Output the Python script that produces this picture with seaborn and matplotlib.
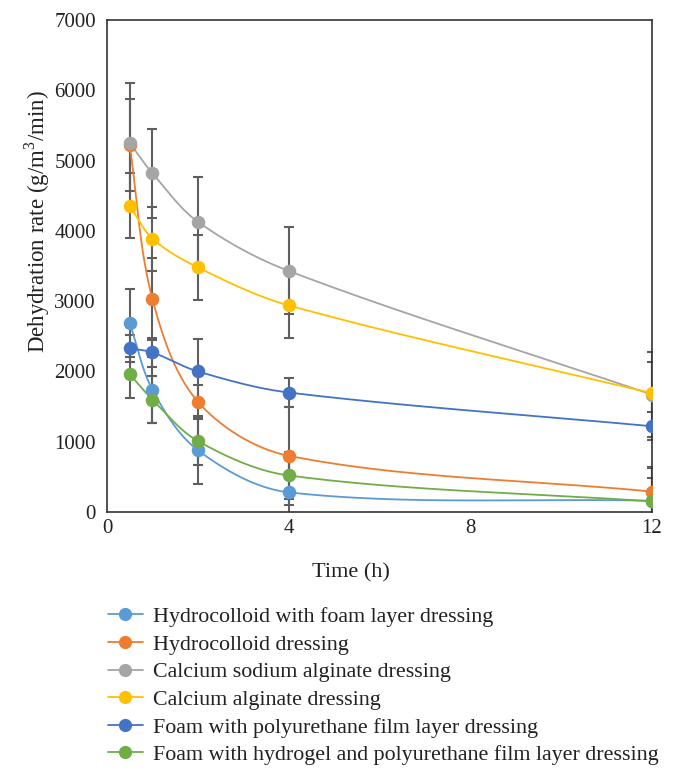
import numpy as np
import pandas as pd
import matplotlib
matplotlib.use("Agg")
import matplotlib.pyplot as plt
import seaborn as sns
from matplotlib.lines import Line2D

# ---------------- data ----------------
time_h = [0.5, 1, 2, 4, 12]
series_names = [
    "Hydrocolloid with foam layer dressing",
    "Hydrocolloid dressing",
    "Calcium sodium alginate dressing",
    "Calcium alginate dressing",
    "Foam with polyurethane film layer dressing",
    "Foam with hydrogel and polyurethane film layer dressing",
]
hydrocolloid_foam = [2690, 1740, 880, 280, 160]
hydrocolloid = [5220, 3030, 1570, 800, 290]
ca_na_alginate = [5250, 4820, 4130, 3430, 1670]
ca_alginate = [4360, 3890, 3480, 2940, 1690]
foam_pu = [2330, 2270, 2000, 1700, 1220]
foam_hydrogel_pu = [1960, 1600, 1010, 520, 150]

err_hydrocolloid_foam = [480, 470, 480, 480, 480]
err_hydrocolloid = [650, 580, 240, 700, 330]
err_ca_na_alginate = [850, 630, 630, 620, 610]
err_ca_alginate = [460, 455, 460, 465, 450]
err_foam_pu = [190, 200, 460, 200, 200]
err_foam_hydrogel_pu = [340, 340, 340, 340, 340]

colors = ["#5B9BD5", "#ED7D31", "#A5A5A5", "#FFC000", "#4472C4", "#70AD47"]
x_ticks = [0, 4, 8, 12]
y_ticks = [0, 1000, 2000, 3000, 4000, 5000, 6000, 7000]

values = [hydrocolloid_foam, hydrocolloid, ca_na_alginate, ca_alginate, foam_pu, foam_hydrogel_pu]
errors = [err_hydrocolloid_foam, err_hydrocolloid, err_ca_na_alginate, err_ca_alginate,
          err_foam_pu, err_foam_hydrogel_pu]

df = pd.DataFrame({
    "time": np.tile(time_h, len(series_names)),
    "rate": np.concatenate(values),
    "err": np.concatenate(errors),
    "series": np.repeat(series_names, len(time_h)),
})

# ---------------- style ----------------
sns.set_theme(style="white")
plt.rcParams["font.family"] = ["Liberation Serif", "DejaVu Serif"]
plt.rcParams["mathtext.fontset"] = "custom"
plt.rcParams["mathtext.rm"] = "Liberation Serif"

fig = plt.figure(figsize=(6.75, 7.79), dpi=100)
ax = fig.add_axes([107 / 675, 1 - 512 / 779, 545 / 675, 492 / 779])

XMAX, YMAX = 12, 7000
W_PX, H_PX = 545.0, 492.0


def smooth_curve(xs, ys, n=50):
    """Excel-like smoothed line (Bezier, chord-length weighted tangents) in pixel space."""
    px = np.asarray(xs, float) / XMAX * W_PX
    py = np.asarray(ys, float) / YMAX * H_PX
    P = np.column_stack([px, py])
    out = []
    for i in range(len(P) - 1):
        p0 = P[i - 1] if i > 0 else P[i]
        p1, p2 = P[i], P[i + 1]
        p3 = P[i + 2] if i + 2 < len(P) else P[i + 1]
        d01 = np.linalg.norm(p1 - p0)
        d12 = np.linalg.norm(p2 - p1)
        d23 = np.linalg.norm(p3 - p2)
        f1 = d12 / (3.0 * (d01 + d12))
        f2 = d12 / (3.0 * (d12 + d23))
        c1 = p1 + (p2 - p0) * f1
        c2 = p2 - (p3 - p1) * f2
        t = np.linspace(0, 1, n)[:, None]
        seg = ((1 - t) ** 3) * p1 + 3 * ((1 - t) ** 2) * t * c1 + 3 * (1 - t) * t ** 2 * c2 + t ** 3 * p2
        out.append(seg if i == 0 else seg[1:])
    out = np.vstack(out)
    return out[:, 0] / W_PX * XMAX, out[:, 1] / H_PX * YMAX


# error bars first
for name in series_names:
    sub = df[df["series"] == name]
    ax.errorbar(sub["time"], sub["rate"], yerr=sub["err"], fmt="none",
                ecolor="#5f5f5f", elinewidth=1.5, capsize=3.8, capthick=1.5, zorder=1)

# smoothed lines
for name, c in zip(series_names, colors):
    sub = df[df["series"] == name]
    sx, sy = smooth_curve(sub["time"].values, sub["rate"].values)
    ax.plot(sx, sy, color=c, lw=1.3, zorder=2)

# markers via seaborn
for name, c in zip(series_names, colors):
    sub = df[df["series"] == name]
    sns.scatterplot(data=sub, x="time", y="rate", color=c, s=95, linewidth=0,
                    ax=ax, zorder=3, legend=False)

ax.set_xlim(0, XMAX)
ax.set_ylim(0, YMAX)
ax.set_xticks(x_ticks)
ax.set_yticks(y_ticks)
ax.tick_params(axis="both", length=0, labelsize=15, colors="#222222")
ax.tick_params(axis="x", pad=5)
ax.tick_params(axis="y", pad=8)
for s in ax.spines.values():
    s.set_color("#333333")
    s.set_linewidth(1.2)
    s.set_visible(True)

ax.set_xlabel("Time (h)", fontsize=16, color="#222222")
ax.set_ylabel("Dehydration rate (g/m$^3$/min)", fontsize=16.5, color="#222222")
ax.xaxis.set_label_coords(0.448, -0.104)
ax.yaxis.set_label_coords(-0.1005, 0.59)

handles = [Line2D([0], [0], color=c, lw=1.3, marker="o", markersize=9.5, markeredgewidth=0)
           for c in colors]
fig.legend(handles, series_names, loc="upper left", bbox_to_anchor=(99 / 675, 1 - 598 / 779),
           frameon=False, fontsize=15.8, handlelength=1.6, handletextpad=0.45,
           labelspacing=0.33, borderaxespad=0, labelcolor="#222222")

fig.savefig("out.png", dpi=100)
